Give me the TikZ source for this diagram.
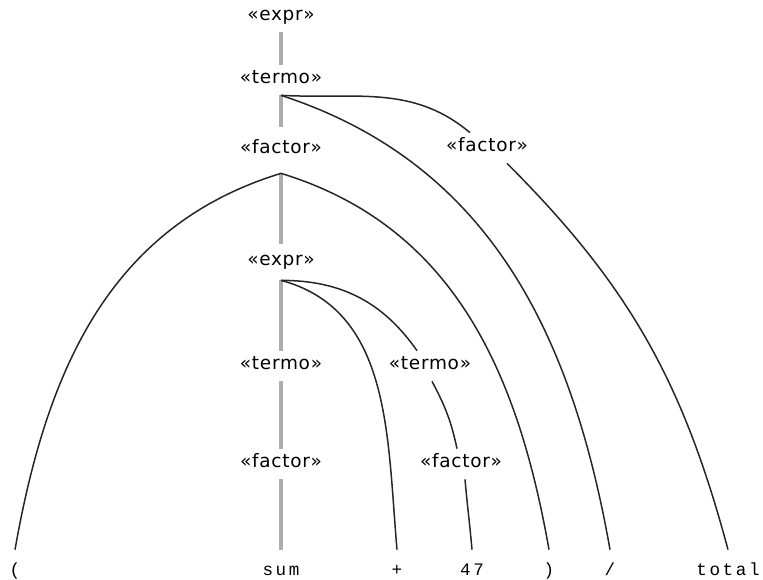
\documentclass[tikz,border=0pt]{standalone}
\usepackage{fontspec}
\setsansfont{DejaVu Sans}[LetterSpace=4]
\setmonofont{Liberation Mono}[LetterSpace=15]
\usepackage{tikz}

\begin{document}
\begin{tikzpicture}[
  x=0.02cm, y=0.02cm,
  nt/.style     = {font=\sffamily\fontsize{10.5}{12}\selectfont, inner sep=0pt,
                   text height=1.5ex, text depth=.5ex, minimum height=6mm},
  tok/.style    = {font=\ttfamily\fontsize{10}{12}\selectfont, inner sep=0pt,
                   text height=1.5ex, text depth=.5ex, minimum height=8.8mm},
  spine/.style  = {draw=black!32, line width=2pt},
  branch/.style = {draw=black!85, line width=.85pt}
]
\useasboundingbox (0,0) rectangle (763,-579);

%% ---- nonterminals -------------------------------------------------
\node[nt] (expr)   at (281,-17)  {«expr»};
\node[nt] (termo)  at (281,-80)  {«termo»};
\node[nt, minimum height=9.2mm] (factor) at (281,-150) {«factor»};
\node[nt] (factorb) at (487,-148) {«factor»};
\node[nt, minimum height=7.2mm] (exprb) at (281,-262) {«expr»};
\node[nt] (termob) at (281,-366) {«termo»};
\node[nt] (termoc) at (430,-366) {«termo»};
\node[nt] (factorc) at (281,-464) {«factor»};
\node[nt] (factord) at (461,-464) {«factor»};

%% ---- tokens -------------------------------------------------------
\node[tok] (lpar)  at (15,-572)  {(};
\node[tok] (sum)   at (281,-572) {sum};
\node[tok] (plus)  at (397,-572) {+};
\node[tok] (num)   at (472,-572) {47};
\node[tok] (rpar)  at (549,-572) {)};
\node[tok] (slash) at (610,-572) {/};
\node[tok] (total) at (728,-572) {total};

%% ---- head links ---------------------------------------------------
\draw[spine] (expr) -- (termo);
\draw[spine] (termo) -- (factor);
\draw[spine] (factor) -- (exprb);
\draw[spine] (exprb) -- (termob);
\draw[spine] (termob) -- (factorc);
\draw[spine] (factorc) -- (sum);

%% ---- other children -----------------------------------------------
\draw[branch] (termo.south) to[out=-3, in=140] ([xshift=-3.4mm]factorb.north);
\draw[branch] (termo.south) to[out=-18, in=100] (slash.north);
\draw[branch] (factor.south) to[out=197, in=80] (lpar.north);
\draw[branch] (factor.south) to[out=-17, in=100] (rpar.north);
\draw[branch] (exprb.south) to[out=-15, in=95] (plus.north);
\draw[branch] (exprb.south) to[out=0, in=125] ([xshift=-2.6mm]termoc.north);
\draw[branch] ([xshift=.4mm]termoc.south) to[out=-62, in=102] ([xshift=-.8mm]factord.north);
\draw[branch] ([xshift=.8mm]factord.south) to[out=-85, in=95] (num.north);
\draw[branch] ([xshift=4mm]factorb.south) to[out=-45, in=105] (total.north);
\end{tikzpicture}
\end{document}
